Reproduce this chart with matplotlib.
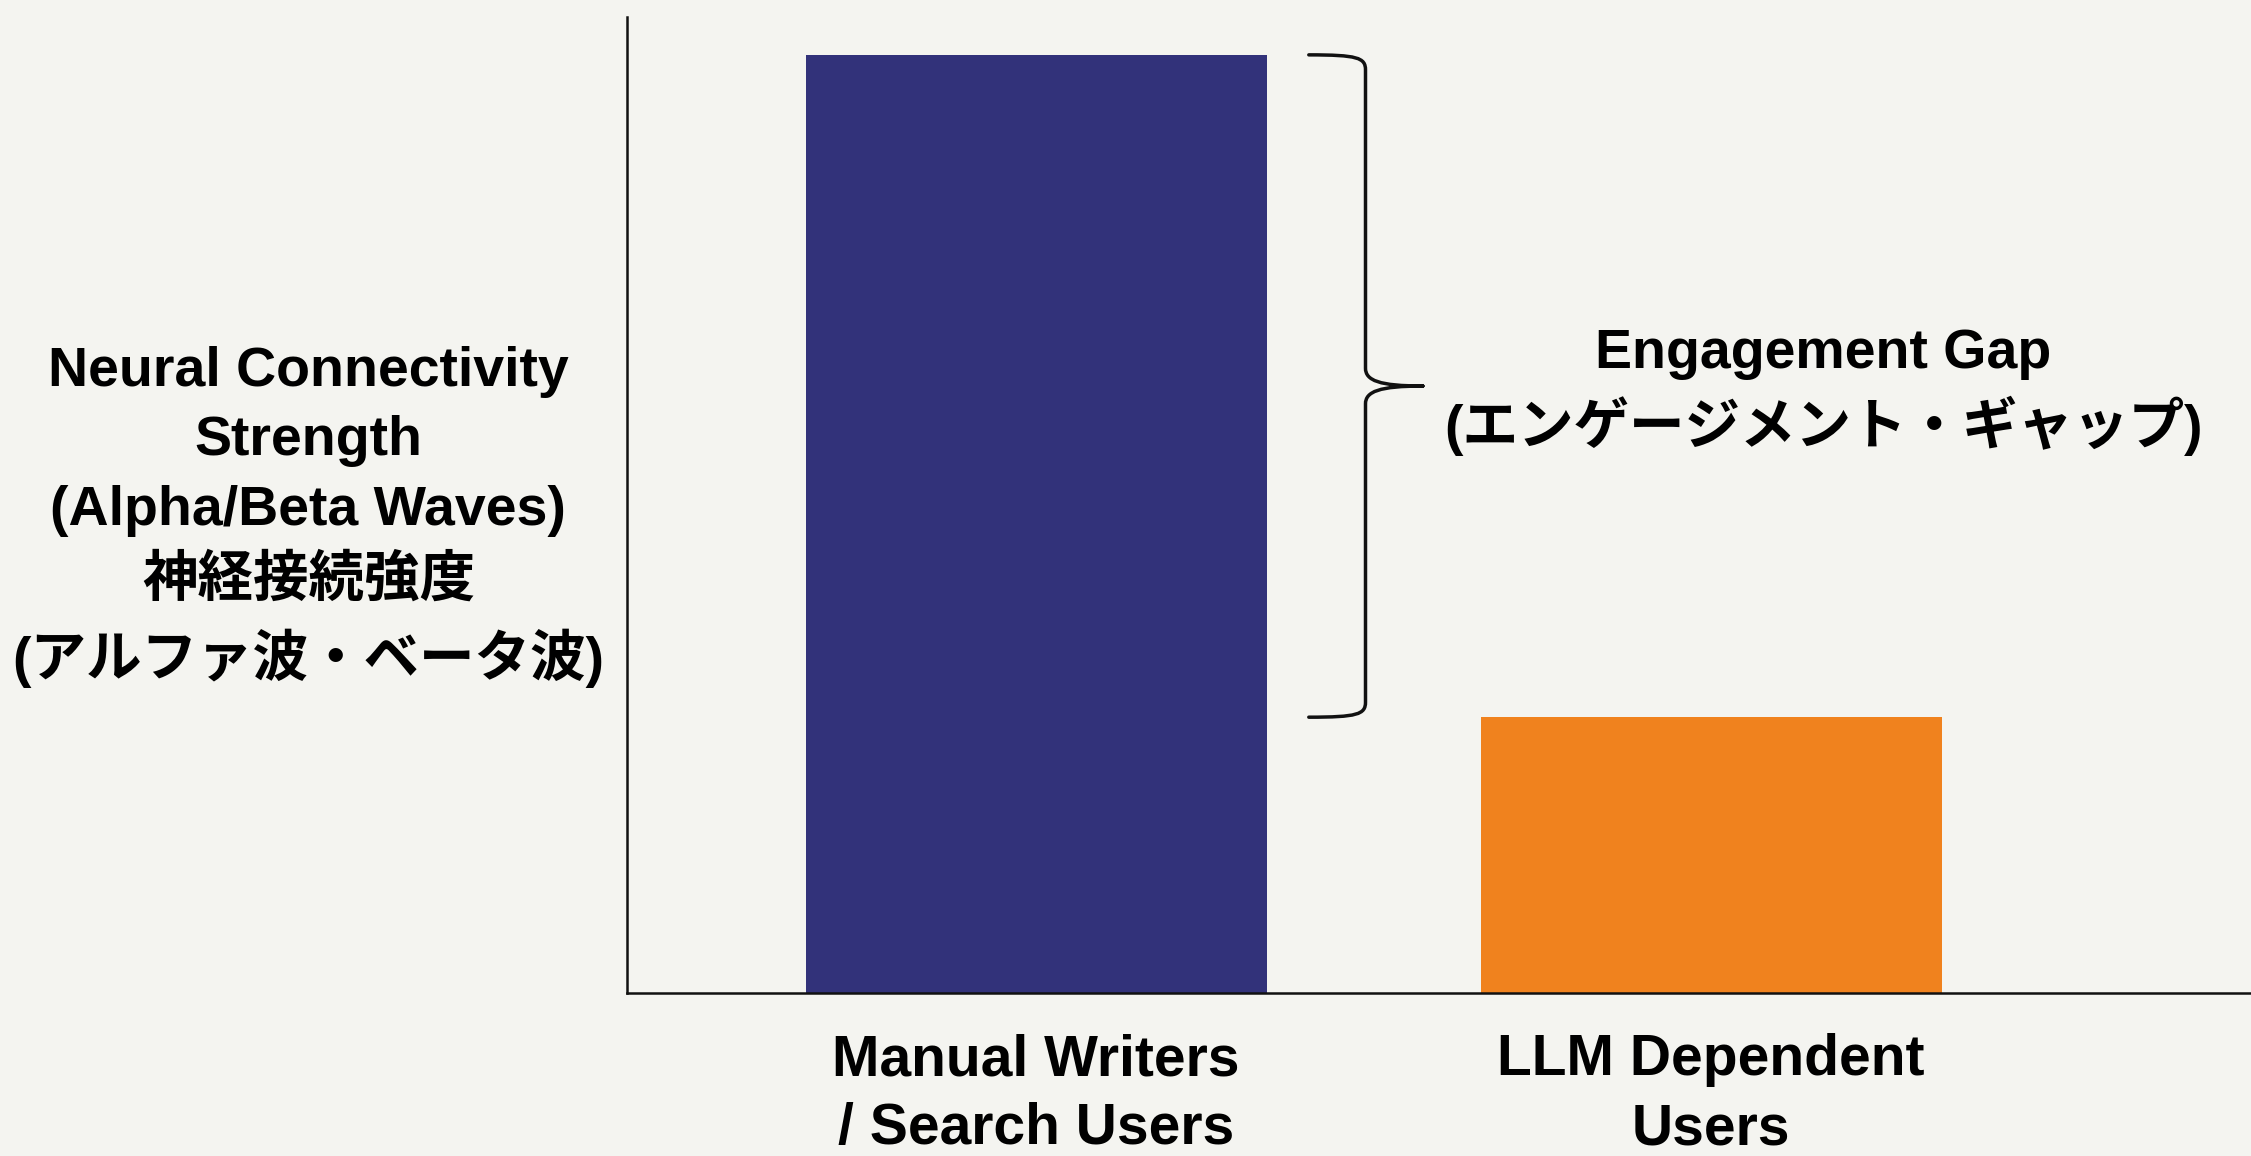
import matplotlib
matplotlib.use('Agg')
from matplotlib import pyplot as plt
from matplotlib.path import Path
from matplotlib.patches import PathPatch

plt.rcParams['font.family'] = ['Liberation Sans', 'Noto Sans CJK JP', 'DejaVu Sans']
plt.rcParams['font.weight'] = 'bold'

categories = ['Manual Writers\n/ Search Users', 'LLM Dependent\nUsers']
values = [100, 29.4]
bar_colors = ['#32327A', '#F0821E']
ylabel_text = ('Neural Connectivity\nStrength\n(Alpha/Beta Waves)\n'
               '神経接続強度\n(アルファ波・ベータ波)')
gap_text = 'Engagement Gap\n(エンゲージメント・ギャップ)'

bg = '#F4F4F0'
fig = plt.figure(figsize=(22.51, 11.56), dpi=100, facecolor=bg)
ax = fig.add_axes([0.2786, 0.141, 0.7214, 0.844], facecolor=bg)

x = range(len(categories))
ax.bar(x, values, width=0.683, color=bar_colors)
ax.set_xlim(-0.606, 1.8)
ax.set_ylim(0, 104)

ax.set_xticks(list(x))
ax.set_xticklabels(categories, fontsize=41, fontweight='bold', linespacing=1.36)
ax.tick_params(axis='x', length=0, pad=29)
ax.set_yticks([])
for s in ['top', 'right']:
    ax.spines[s].set_visible(False)
for s in ['left', 'bottom']:
    ax.spines[s].set_linewidth(1.8)
    ax.spines[s].set_color('#111111')

# curly brace between the two bar tops
ytop, ybot = values[0], values[1]
ymid = (ytop + ybot) / 2
x0, xs, xt = 0.404, 0.488, 0.573
verts = [
    (x0, ytop), (xs - 0.012, ytop), (xs, ytop - 0.3), (xs, ytop - 1.6),
    (xs, ymid + 1.9),
    (xs, ymid + 0.6), (xs + 0.02, ymid), (xt, ymid),
    (xt, ymid),
    (xs + 0.02, ymid), (xs, ymid - 0.6), (xs, ymid - 1.9),
    (xs, ybot + 1.6),
    (xs, ybot + 0.3), (xs - 0.012, ybot), (x0, ybot),
]
codes = [Path.MOVETO, Path.CURVE4, Path.CURVE4, Path.CURVE4,
         Path.LINETO,
         Path.CURVE4, Path.CURVE4, Path.CURVE4,
         Path.MOVETO,
         Path.CURVE4, Path.CURVE4, Path.CURVE4,
         Path.LINETO,
         Path.CURVE4, Path.CURVE4, Path.CURVE4]
ax.add_patch(PathPatch(Path(verts, codes), fill=False, lw=2.5,
                       edgecolor='#111111', capstyle='round'))

ax.text(1.166, 64.1, gap_text, ha='center', va='center', fontsize=40,
        fontweight='bold', linespacing=1.32)

fig.text(0.137, 0.553, ylabel_text, ha='center', va='center', fontsize=40,
         fontweight='bold', linespacing=1.44, multialignment='center')

fig.savefig('out.png', dpi=100, facecolor=bg)
